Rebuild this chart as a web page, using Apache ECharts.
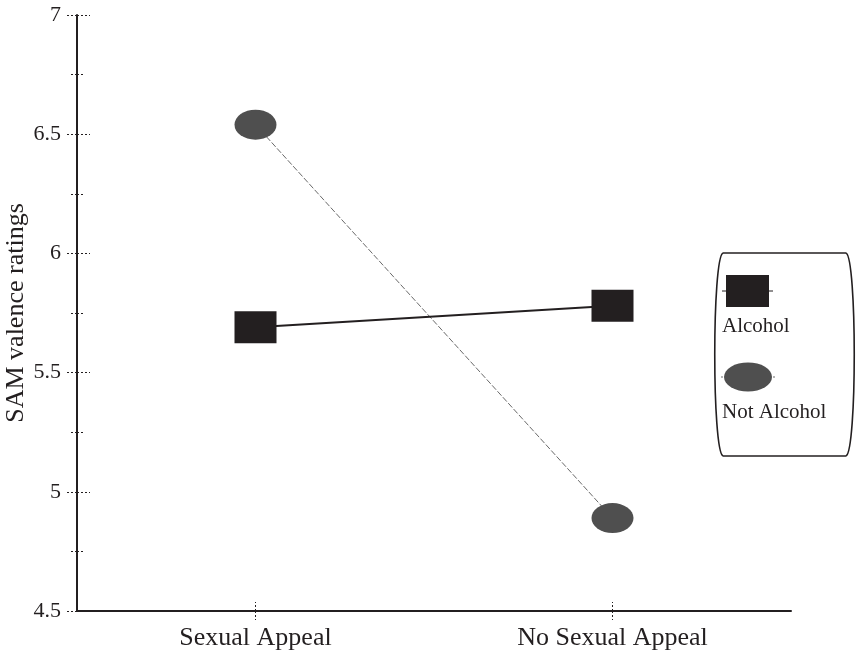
<!DOCTYPE html>
<html>
<head>
<meta charset="utf-8">
<script src="https://cdn.jsdelivr.net/npm/echarts@6/dist/echarts.min.js"></script>
<style>
  html, body { margin: 0; padding: 0; background: #fff; }
  #chart { width: 857px; height: 652px; }
</style>
</head>
<body>
<div id="chart"></div>
<script>
// Mean SAM valence ratings by ad condition
const categories = ['Sexual Appeal', 'No Sexual Appeal'];
const seriesNames = ['Alcohol', 'Not Alcohol'];
const alcoholValues = [5.69, 5.78];
const notAlcoholValues = [6.54, 4.89];
const yTicks = { min: 4.5, max: 7, step: 0.5 };
const yTitle = 'SAM valence ratings';

const FONT = '"Liberation Serif", "Times New Roman", serif';
const INK = '#231f20';
const chart = echarts.init(document.getElementById('chart'));

const tickStyle = { color: INK, width: 1, type: [2, 2] };
const baseY = {
  type: 'value', min: yTicks.min, max: yTicks.max, interval: yTicks.step,
  position: 'left', splitLine: { show: false }
};
const boxStroke = { stroke: INK, lineWidth: 1.6, fill: 'none' };

chart.setOption({
  backgroundColor: '#fff',
  animation: false,
  grid: { left: 77, top: 15, width: 714, bottom: 41, containLabel: false, outerBoundsMode: 'none' },
  xAxis: [
    {
      type: 'category', data: categories, boundaryGap: true,
      axisLine: { show: true, lineStyle: { color: INK, width: 2 } },
      axisTick: { show: true, alignWithLabel: true, length: 9, lineStyle: tickStyle },
      axisLabel: { color: INK, fontFamily: FONT, fontSize: 26, margin: 14 }
    },
    {
      type: 'category', data: categories, boundaryGap: true, position: 'bottom',
      axisLine: { show: false },
      axisTick: { show: true, alignWithLabel: true, inside: true, length: 9, lineStyle: tickStyle },
      axisLabel: { show: false }
    }
  ],
  yAxis: [
    Object.assign({}, baseY, {
      name: yTitle, nameLocation: 'middle', nameGap: 48, nameMoveOverlap: false,
      nameTextStyle: { color: INK, fontFamily: FONT, fontSize: 26 },
      axisLine: { show: true, lineStyle: { color: INK, width: 2 } },
      axisTick: { show: true, length: 10, lineStyle: tickStyle },
      minorTick: { show: true, splitNumber: 2, length: 7, lineStyle: tickStyle },
      axisLabel: { color: INK, fontFamily: FONT, fontSize: 22, margin: 16,
                   formatter: v => String(v) }
    }),
    Object.assign({}, baseY, {
      axisLine: { show: false },
      axisTick: { show: true, inside: true, length: 13, lineStyle: tickStyle },
      minorTick: { show: true, splitNumber: 2, length: 7, lineStyle: tickStyle },
      axisLabel: { show: false }
    })
  ],
  series: [
    {
      name: seriesNames[0], type: 'line', data: alcoholValues,
      symbol: 'rect', symbolSize: [42, 32],
      itemStyle: { color: INK },
      lineStyle: { color: INK, width: 2 },
      z: 3
    },
    {
      name: seriesNames[1], type: 'line', data: notAlcoholValues,
      symbol: 'circle', symbolSize: [42, 30],
      itemStyle: { color: '#4f4f4f' },
      lineStyle: { color: '#6a6a6a', width: 1, type: [6, 2] },
      z: 2
    }
  ],
  graphic: [
    // legend frame: straight top/bottom, bowed sides
    { type: 'line', shape: { x1: 723, y1: 253, x2: 846, y2: 253 }, style: boxStroke },
    { type: 'line', shape: { x1: 723, y1: 456, x2: 846, y2: 456 }, style: boxStroke },
    { type: 'bezierCurve',
      shape: { x1: 723, y1: 253, cpx1: 712, cpy1: 258, cpx2: 712, cpy2: 451, x2: 723, y2: 456 },
      style: boxStroke },
    { type: 'bezierCurve',
      shape: { x1: 846, y1: 253, cpx1: 857, cpy1: 258, cpx2: 857, cpy2: 451, x2: 846, y2: 456 },
      style: boxStroke },
    { type: 'line', shape: { x1: 722, y1: 291, x2: 773, y2: 291 },
      style: { stroke: INK, lineWidth: 1 } },
    { type: 'rect', shape: { x: 726, y: 275, width: 43, height: 32 },
      style: { fill: INK } },
    { type: 'text', left: 722, top: 316,
      style: { text: seriesNames[0], fill: INK, font: '21px ' + FONT } },
    { type: 'line', shape: { x1: 721, y1: 377, x2: 775, y2: 377 },
      style: { stroke: '#6a6a6a', lineWidth: 1, lineDash: [2, 2] } },
    { type: 'circle', x: 748, y: 377, scaleX: 24 / 14.5,
      shape: { cx: 0, cy: 0, r: 14.5 },
      style: { fill: '#4f4f4f' } },
    { type: 'text', left: 722, top: 402,
      style: { text: seriesNames[1], fill: INK, font: '21px ' + FONT } }
  ]
});
</script>
</body>
</html>
